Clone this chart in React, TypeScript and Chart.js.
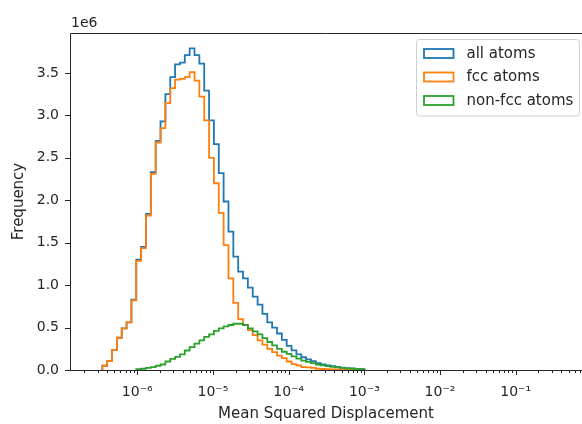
import React, { useEffect, useRef } from 'react';
import { Chart, registerables } from 'chart.js';

Chart.register(...registerables);

// ---- data (counts in units of 1e6) ----
const LOG_FIRST_EDGE = -6.462;
const LOG_LAST_EDGE = -3.0;
const BIN_COUNT = 54;

const allAtoms = [
  0.05, 0.106, 0.236, 0.38, 0.49, 0.56, 0.83, 1.30, 1.45, 1.84,
  2.33, 2.70, 2.93, 3.25, 3.45, 3.60, 3.62, 3.71, 3.79, 3.71,
  3.61, 3.29, 2.94, 2.66, 2.32, 1.985, 1.63, 1.336, 1.16, 1.08,
  0.97, 0.865, 0.77, 0.66, 0.56, 0.50, 0.43, 0.355, 0.285, 0.232,
  0.185, 0.15, 0.125, 0.105, 0.08, 0.067, 0.055, 0.046, 0.036, 0.029,
  0.023, 0.018, 0.013, 0.0105,
];
const fccAtoms = [
  0.05, 0.106, 0.236, 0.38, 0.49, 0.56, 0.82, 1.285, 1.435, 1.82,
  2.31, 2.68, 2.85, 3.145, 3.32, 3.42, 3.43, 3.45, 3.51, 3.41,
  3.22, 2.94, 2.50, 2.20, 1.85, 1.47, 1.08, 0.79, 0.60, 0.53,
  0.47, 0.41, 0.35, 0.30, 0.25, 0.21, 0.17, 0.14, 0.10, 0.07,
  0.055, 0.035, 0.03, 0.025, 0.015, 0.012, 0.01, 0.008, 0.006, 0.004,
  0.003, 0.002, 0.001, 0.0005,
];
const nonFccAtoms = [
  0, 0, 0, 0, 0, 0, 0, 0.01, 0.015, 0.025,
  0.035, 0.05, 0.065, 0.10, 0.13, 0.155, 0.185, 0.23, 0.27, 0.31,
  0.35, 0.39, 0.42, 0.46, 0.49, 0.515, 0.53, 0.545, 0.545, 0.53,
  0.49, 0.455, 0.42, 0.375, 0.33, 0.29, 0.25, 0.215, 0.19, 0.16,
  0.135, 0.11, 0.095, 0.08, 0.065, 0.055, 0.045, 0.038, 0.03, 0.025,
  0.02, 0.016, 0.012, 0.01,
];

const seriesLabels = ['all atoms', 'fcc atoms', 'non-fcc atoms'];
const seriesColors = ['#1f77b4', '#ff7f0e', '#2ca02c'];
const yTickValues = [0, 0.5, 1.0, 1.5, 2.0, 2.5, 3.0, 3.5];
const X_LOG_MIN = -6.889;
const X_LOG_MAX = -0.124;
const Y_MAX = 3.97;
const OFFSET_TEXT = '1e6';
const X_TITLE = 'Mean Squared Displacement';
const Y_TITLE = 'Frequency';

const FONT = 'DejaVu Sans';
const INK = '#262626';

const binEdges = Array.from({ length: BIN_COUNT + 1 }, (_, k) =>
  Math.pow(10, LOG_FIRST_EDGE + (k * (LOG_LAST_EDGE - LOG_FIRST_EDGE)) / BIN_COUNT)
);

function stepPoints(counts: number[]) {
  let s = 0;
  while (s < counts.length && counts[s] === 0) s++;
  let e = counts.length - 1;
  while (e > s && counts[e] === 0) e--;
  const pts: { x: number; y: number }[] = [{ x: binEdges[s], y: 0 }];
  for (let k = s; k <= e; k++) pts.push({ x: binEdges[k], y: counts[k] });
  pts.push({ x: binEdges[e + 1], y: counts[e] });
  pts.push({ x: binEdges[e + 1], y: 0 });
  return pts;
}

const SUP: Record<string, string> = {
  '-': '\u207B', '0': '\u2070', '1': '\u00B9', '2': '\u00B2', '3': '\u00B3',
  '4': '\u2074', '5': '\u2075', '6': '\u2076', '7': '\u2077', '8': '\u2078', '9': '\u2079',
};
const powLabel = (e: number) => '10' + String(e).split('').map((c) => SUP[c]).join('');
const isMajor = (v: number) => Math.abs(Math.log10(v) - Math.round(Math.log10(v))) < 1e-9;

const decorPlugin = {
  id: 'decor',
  afterDatasetsDraw(chart: any) {
    const { ctx, chartArea, scales } = chart;
    const { left, top, right, bottom } = chartArea;
    const xs = scales.x;
    const ys = scales.y;
    ctx.save();
    ctx.strokeStyle = INK;
    ctx.lineWidth = 1;
    // spines
    ctx.beginPath();
    ctx.moveTo(left + 0.5, bottom + 0.5);
    ctx.lineTo(left + 0.5, top + 0.5);
    ctx.lineTo(right + 2, top + 0.5);
    ctx.moveTo(left, bottom + 0.5);
    ctx.lineTo(right + 2, bottom + 0.5);
    ctx.stroke();
    // x ticks
    ctx.beginPath();
    for (const t of xs.ticks) {
      const px = Math.round(xs.getPixelForValue(t.value)) + 0.5;
      const len = isMajor(t.value) ? 5 : 3;
      ctx.moveTo(px, bottom);
      ctx.lineTo(px, bottom + len);
    }
    // y ticks
    for (const t of ys.ticks) {
      const py = Math.round(ys.getPixelForValue(t.value)) + 0.5;
      ctx.moveTo(left - 5, py);
      ctx.lineTo(left, py);
    }
    ctx.stroke();
    // offset text
    ctx.fillStyle = INK;
    ctx.font = `14px "${FONT}"`;
    ctx.textAlign = 'left';
    ctx.textBaseline = 'alphabetic';
    ctx.fillText(OFFSET_TEXT, left + 1, top - 6.5);
    ctx.restore();
  },
  afterDraw(chart: any) {
    const { ctx } = chart;
    const bx = 416.5, by = 39.5, bw = 163, bh = 76.5, r = 3;
    ctx.save();
    ctx.beginPath();
    ctx.moveTo(bx + r, by);
    ctx.lineTo(bx + bw - r, by);
    ctx.arcTo(bx + bw, by, bx + bw, by + r, r);
    ctx.lineTo(bx + bw, by + bh - r);
    ctx.arcTo(bx + bw, by + bh, bx + bw - r, by + bh, r);
    ctx.lineTo(bx + r, by + bh);
    ctx.arcTo(bx, by + bh, bx, by + bh - r, r);
    ctx.lineTo(bx, by + r);
    ctx.arcTo(bx, by, bx + r, by, r);
    ctx.closePath();
    ctx.fillStyle = 'rgba(255,255,255,0.8)';
    ctx.fill();
    ctx.strokeStyle = '#d0d0d0';
    ctx.lineWidth = 1;
    ctx.stroke();
    const rows = [53.5, 77, 100.5];
    ctx.font = `15px "${FONT}"`;
    ctx.textBaseline = 'middle';
    ctx.textAlign = 'left';
    seriesLabels.forEach((lab, i) => {
      const cy = rows[i];
      ctx.fillStyle = '#ffffff';
      ctx.fillRect(424, cy - 4.5, 29.5, 9);
      ctx.strokeStyle = seriesColors[i];
      ctx.lineWidth = 1.8;
      ctx.strokeRect(424, cy - 4.5, 29.5, 9);
      ctx.fillStyle = INK;
      ctx.fillText(lab, 466.5, cy + 0.5);
    });
    ctx.restore();
  },
};

export default function App() {
  const ref = useRef<HTMLCanvasElement | null>(null);
  useEffect(() => {
    if (!ref.current) return;
    Chart.defaults.font.family = FONT;
    Chart.defaults.font.size = 14;
    Chart.defaults.color = INK;
    const series = [allAtoms, fccAtoms, nonFccAtoms];
    const chart = new Chart(ref.current, {
      type: 'line',
      data: {
        datasets: series.map((d, i) => ({
          label: seriesLabels[i],
          data: stepPoints(d),
          borderColor: seriesColors[i],
          backgroundColor: '#ffffff',
          borderWidth: 1.8,
          pointRadius: 0,
          fill: false,
          stepped: 'before' as const,
          tension: 0,
          order: 2 - i,
          borderJoinStyle: 'miter' as const,
        })),
      },
      options: {
        animation: false,
        responsive: false,
        devicePixelRatio: 1,
        layout: { padding: { top: 33, left: 0, right: 0, bottom: 0 } },
        plugins: { legend: { display: false }, tooltip: { enabled: false } },
        scales: {
          x: {
            type: 'logarithmic',
            min: Math.pow(10, X_LOG_MIN),
            max: Math.pow(10, X_LOG_MAX),
            grid: { display: false, drawTicks: false },
            border: { display: false },
            afterBuildTicks: (scale: any) => {
              const ticks: { value: number }[] = [];
              for (let e = -8; e <= 1; e++) {
                for (let m = 1; m <= 9; m++) {
                  const v = m * Math.pow(10, e);
                  if (v >= scale.min && v <= scale.max) ticks.push({ value: v });
                }
              }
              scale.ticks = ticks;
            },
            ticks: {
              autoSkip: false,
              maxRotation: 0,
              minRotation: 0,
              padding: 14,
              color: INK,
              font: { size: 14 },
              callback: (v: any) => (isMajor(Number(v)) ? powLabel(Math.round(Math.log10(Number(v)))) : ''),
            },
            title: {
              display: true,
              text: X_TITLE,
              color: INK,
              font: { size: 15 },
              padding: { top: 0, bottom: 1 },
            },
            afterFit: (scale: any) => {
              scale.height = 54;
              scale.paddingLeft = 0;
              scale.paddingRight = 0;
            },
          },
          y: {
            type: 'linear',
            min: 0,
            max: Y_MAX,
            grid: { display: false, drawTicks: false },
            border: { display: false },
            afterBuildTicks: (scale: any) => {
              scale.ticks = yTickValues.map((v) => ({ value: v }));
            },
            ticks: {
              padding: 11,
              color: INK,
              font: { size: 14 },
              callback: (v: any) => Number(v).toFixed(1),
            },
            title: {
              display: true,
              text: Y_TITLE,
              color: INK,
              font: { size: 15 },
              padding: { top: 10, bottom: 0 },
            },
            afterFit: (scale: any) => {
              scale.width = 70;
              scale.paddingTop = 0;
              scale.paddingBottom = 0;
            },
          },
        },
      },
      plugins: [decorPlugin],
    });
    return () => chart.destroy();
  }, []);
  return (
    <div style={{ position: 'fixed', left: 0, top: 0, width: 582, height: 424, background: '#fff' }}>
      <canvas ref={ref} width={582} height={424} style={{ display: 'block' }} />
    </div>
  );
}
